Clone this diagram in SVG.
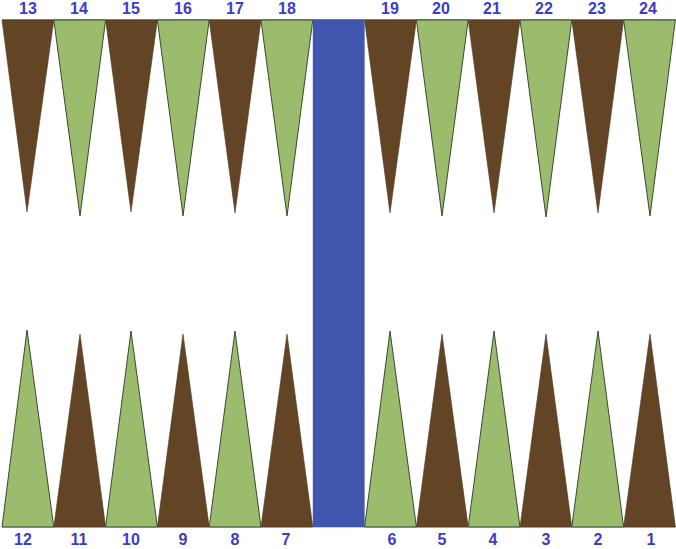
<svg xmlns="http://www.w3.org/2000/svg" width="676" height="549" viewBox="0 0 676 549">
<style>
.b{fill:#634526;stroke:#4a3520;stroke-width:0.6}
.g{fill:#9bbb6d;stroke:#3a4a30;stroke-width:1}
.t{font-family:"Liberation Sans",Arial,sans-serif;font-weight:bold;font-size:16px;fill:#3c3cc8;text-anchor:middle}
</style>
<rect width="676" height="549" fill="#fff"/>
<line x1="2" y1="19.5" x2="676" y2="19.5" stroke="#9a9a9a" stroke-width="1"/>
<line x1="2" y1="527" x2="676" y2="527" stroke="#9a9a9a" stroke-width="1"/>
<g id="bar"><rect x="312.8" y="19.5" width="51.8" height="507.5" fill="#3f55ae"/></g>
<g id="p13"><polygon class="b" points="2,20 53.8,20 27,212"/><text class="t" x="28" y="14">13</text></g>
<g id="p14"><polygon class="g" points="53.8,20 105.6,20 80,216"/><text class="t" x="79" y="14">14</text></g>
<g id="p15"><polygon class="b" points="105.6,20 157.4,20 131,212"/><text class="t" x="131" y="14">15</text></g>
<g id="p16"><polygon class="g" points="157.4,20 209.2,20 183,216"/><text class="t" x="183" y="14">16</text></g>
<g id="p17"><polygon class="b" points="209.2,20 261,20 235,213"/><text class="t" x="235" y="14">17</text></g>
<g id="p18"><polygon class="g" points="261,20 312.8,20 287,216"/><text class="t" x="287" y="14">18</text></g>
<g id="p19"><polygon class="b" points="364.6,20 416.4,20 390,213"/><text class="t" x="390" y="14">19</text></g>
<g id="p20"><polygon class="g" points="416.4,20 468.2,20 442,216"/><text class="t" x="441" y="14">20</text></g>
<g id="p21"><polygon class="b" points="468.2,20 520,20 494,213"/><text class="t" x="492" y="14">21</text></g>
<g id="p22"><polygon class="g" points="520,20 571.8,20 546,217"/><text class="t" x="544" y="14">22</text></g>
<g id="p23"><polygon class="b" points="571.8,20 623.6,20 598,213"/><text class="t" x="597" y="14">23</text></g>
<g id="p24"><polygon class="g" points="623.6,20 675.4,20 650,216"/><text class="t" x="648" y="14">24</text></g>
<g id="p12"><polygon class="g" points="2,527 53.8,527 27,330"/><text class="t" x="23" y="545">12</text></g>
<g id="p11"><polygon class="b" points="53.8,527 105.6,527 80,334"/><text class="t" x="79" y="545">11</text></g>
<g id="p10"><polygon class="g" points="105.6,527 157.4,527 131,331"/><text class="t" x="131" y="545">10</text></g>
<g id="p9"><polygon class="b" points="157.4,527 209.2,527 183,334"/><text class="t" x="183" y="545">9</text></g>
<g id="p8"><polygon class="g" points="209.2,527 261,527 235,331"/><text class="t" x="235" y="545">8</text></g>
<g id="p7"><polygon class="b" points="261,527 312.8,527 287,334"/><text class="t" x="286" y="545">7</text></g>
<g id="p6"><polygon class="g" points="364.6,527 416.4,527 390,331"/><text class="t" x="392" y="545">6</text></g>
<g id="p5"><polygon class="b" points="416.4,527 468.2,527 442,334"/><text class="t" x="442" y="545">5</text></g>
<g id="p4"><polygon class="g" points="468.2,527 520,527 494,331"/><text class="t" x="493" y="545">4</text></g>
<g id="p3"><polygon class="b" points="520,527 571.8,527 546,334"/><text class="t" x="546" y="545">3</text></g>
<g id="p2"><polygon class="g" points="571.8,527 623.6,527 598,331"/><text class="t" x="598" y="545">2</text></g>
<g id="p1"><polygon class="b" points="623.6,527 675.4,527 650,334"/><text class="t" x="651" y="545">1</text></g>
</svg>
